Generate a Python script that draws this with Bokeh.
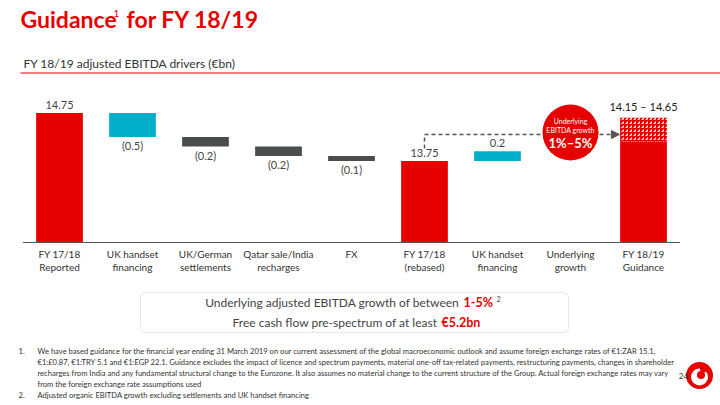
from bokeh.plotting import figure
from bokeh.models import Range1d, Label, BoxAnnotation, Arrow, NormalHead, ColumnDataSource
from bokeh.core.properties import value
from bokeh.embed import file_html
from bokeh.resources import INLINE

# ---------------- data ----------------
categories = ["FY 17/18\nReported", "UK handset\nfinancing", "UK/German\nsettlements",
              "Qatar sale/India\nrecharges", "FX", "FY 17/18\n(rebased)",
              "UK handset\nfinancing", "Underlying\ngrowth", "FY 18/19\nGuidance"]
reported = 14.75
bridge_deltas = [-0.5, -0.2, -0.2, -0.1]
rebased = 13.75
handset_delta = 0.2
guidance_low = 14.15
guidance_high = 14.65
value_labels = ["14.75", "(0.5)", "(0.2)", "(0.2)", "(0.1)", "13.75", "0.2", "", "14.15 \u2013 14.65"]
growth_range = "1%\u20135%"

# ---------------- style ----------------
RED = "#E60000"
CYAN = "#00B0CA"
GREY = "#4A4D4E"
TXT = "#333333"
FONT = "Lato"
W, H = 720, 405
OFF = 0                # page offset of the canvas
floor = 12.05          # value at the chart baseline
PX_X0, PX_DX = 59, 73  # page x of first bar centre, spacing
PX_Y0, PX_DY = 242, 48 # page y of baseline, px per unit


def X(px):
    return (px - PX_X0) / PX_DX


def Y(py):
    return floor + (PX_Y0 - py) / PX_DY


p = figure(width=W, height=H, output_backend="svg", toolbar_location=None,
           x_range=Range1d(X(OFF), X(OFF + W)), y_range=Range1d(Y(OFF + H), Y(OFF)),
           min_border=0, outline_line_color=None)
p.axis.visible = False
p.grid.visible = False
p.background_fill_color = "white"
p.border_fill_color = "white"

# ---------------- bars ----------------
bottoms, tops, colors, above = [floor], [reported], [RED], [True]
level = reported
for d in bridge_deltas:
    new = level + d
    bottoms.append(min(level, new)); tops.append(max(level, new))
    colors.append(CYAN if len(bottoms) == 2 else GREY); above.append(d > 0)
    level = new
bottoms.append(floor); tops.append(rebased); colors.append(RED); above.append(True)
bottoms.append(rebased); tops.append(rebased + handset_delta); colors.append(CYAN); above.append(True)
idx = list(range(len(bottoms)))
p.vbar(x=idx, bottom=bottoms, top=tops, width=0.64, fill_color=colors, line_color=None)

g = len(categories) - 1
p.vbar(x=[g], bottom=[floor], top=[guidance_low], width=0.64, fill_color=RED, line_color=None)
p.vbar(x=[g], bottom=[guidance_low], top=[guidance_high], width=0.64, fill_color=RED,
       line_color=None, hatch_pattern="right_diagonal_dash", hatch_color="white",
       hatch_scale=4, hatch_weight=1.3)

# value labels
lab_x, lab_y, lab_t, lab_off, lab_base = [], [], [], [], []
for i in idx:
    lab_x.append(i); lab_t.append(value_labels[i])
    if above[i]:
        lab_y.append(tops[i]); lab_off.append(-4); lab_base.append("bottom")
    else:
        lab_y.append(bottoms[i]); lab_off.append(2); lab_base.append("top")
src = ColumnDataSource(dict(x=lab_x, y=lab_y, t=lab_t, off=lab_off, b=lab_base))
p.text(x="x", y="y", text="t", y_offset="off", text_baseline="b", source=src,
       text_align="center", text_font=value(FONT), text_font_size="11px", text_color="#444444")
p.text(x=[g], y=[guidance_high], text=[value_labels[g]], y_offset=-5, text_baseline="bottom",
       text_align="center", text_font=value(FONT), text_font_size="11px", text_color="#222222")

# baseline + category labels
p.segment(x0=[-0.5], x1=[len(categories) - 0.5], y0=[floor], y1=[floor], line_color="#555555", line_width=1)
p.text(x=list(range(len(categories))), y=[floor] * len(categories), text=categories,
       y_offset=5, text_baseline="top", text_align="center", text_font=value(FONT),
       text_font_size="10px", text_color=TXT, text_line_height=1.1)

# connector arrow + growth bubble
arrow_level = Y(134)
p.segment(x0=[5], x1=[5], y0=[rebased + 0.26], y1=[arrow_level], line_color="#555555",
          line_width=1.5, line_dash="4 3")
arr = Arrow(x_start=5, y_start=arrow_level, x_end=g - 0.33, y_end=arrow_level,
            line_color="#555555", line_width=1.5, line_dash="4 3", level="underlay",
            end=NormalHead(size=8, fill_color="#555555", line_color="#555555"))
p.add_layout(arr)
p.scatter(x=[7], y=[Y(132)], size=56, fill_color=RED, line_color=None)
for txt, py, fs, st in [("Underlying", 120, "7px", "normal"), ("EBITDA growth", 129, "7px", "normal"),
                        (growth_range, 142, "13px", "bold")]:
    p.add_layout(Label(x=7, y=Y(py), text=txt, text_align="center", text_baseline="middle",
                       text_font=FONT, text_font_size=fs, text_font_style=st, text_color="white"))

# ---------------- header ----------------
p.add_layout(Label(x=X(20), y=Y(18), text="Guidance", text_font=FONT, text_font_size="23px",
                   text_font_style="bold", text_color=RED, text_baseline="middle"))
p.add_layout(Label(x=X(113), y=Y(13), text="1", text_font=FONT, text_font_size="10px",
                   text_color=RED, text_baseline="middle"))
p.add_layout(Label(x=X(126), y=Y(18), text="for FY 18/19", text_font=FONT, text_font_size="23px",
                   text_font_style="bold", text_color=RED, text_baseline="middle"))
p.add_layout(Label(x=X(23), y=Y(63), text="FY 18/19 adjusted EBITDA drivers (\u20acbn)", text_font=FONT,
                   text_font_size="12px", text_color=TXT, text_baseline="middle"))
p.segment(x0=[X(20)], x1=[X(OFF + W)], y0=[Y(72.5)], y1=[Y(72.5)], line_color=RED, line_width=1)

# ---------------- summary box ----------------
p.add_layout(BoxAnnotation(left=X(140), right=X(568), top=Y(292), bottom=Y(332), fill_alpha=0,
                           line_color="#666666", line_dash="1 1", line_width=1, border_radius=5))
p.add_layout(Label(x=X(462), y=Y(302), text="Underlying adjusted EBITDA growth of between ", text_align="right",
                   text_baseline="middle", text_font=FONT, text_font_size="12px", text_color="#444444"))
p.add_layout(Label(x=X(463), y=Y(302), text="1-5%", text_align="left", text_baseline="middle",
                   text_font=FONT, text_font_size="12.5px", text_font_style="bold", text_color=RED))
p.add_layout(Label(x=X(496), y=Y(298), text="2", text_align="left", text_baseline="middle",
                   text_font=FONT, text_font_size="7px", text_color="#444444"))
p.add_layout(Label(x=X(440), y=Y(322), text="Free cash flow pre-spectrum of at least ", text_align="right",
                   text_baseline="middle", text_font=FONT, text_font_size="12px", text_color="#444444"))
p.add_layout(Label(x=X(441), y=Y(322), text="\u20ac5.2bn", text_align="left", text_baseline="middle",
                   text_font=FONT, text_font_size="12.5px", text_font_style="bold", text_color=RED))

# ---------------- footnotes ----------------
notes = [
    ("1.", "We have based guidance for the financial year ending 31 March 2019 on our current assessment of the global macroeconomic outlook and assume foreign exchange rates of \u20ac1:ZAR 15.1,"),
    ("", "\u20ac1:\u00a30.87, \u20ac1:TRY 5.1 and \u20ac1:EGP 22.1. Guidance excludes the impact of licence and spectrum payments, material one-off tax-related payments, restructuring payments, changes in shareholder"),
    ("", "recharges from India and any fundamental structural change to the Eurozone. It also assumes no material change to the current structure of the Group. Actual foreign exchange rates may vary"),
    ("", "from the foreign exchange rate assumptions used"),
    ("2.", "Adjusted organic EBITDA growth excluding settlements and UK handset financing"),
]
for k, (num, txt) in enumerate(notes):
    py = 350 + k * 11
    if num:
        p.add_layout(Label(x=X(18), y=Y(py), text=num, text_baseline="middle", text_font=FONT,
                           text_font_size="7.6px", text_color=TXT))
    p.add_layout(Label(x=X(37), y=Y(py), text=txt, text_baseline="middle", text_font=FONT,
                       text_font_size="7.6px", text_color=TXT))

# page number + logo
p.add_layout(Label(x=X(683), y=Y(375), text="24", text_align="center", text_baseline="middle",
                   text_font=FONT, text_font_size="8px", text_color=TXT))
p.scatter(x=[X(699)], y=[Y(375)], size=27, fill_color=RED, line_color=None)
p.scatter(x=[X(699)], y=[Y(376.5)], size=17, fill_color="white", line_color=None)
p.scatter(x=[X(700.5)], y=[Y(374.5)], size=8, fill_color=RED, line_color=None)
p.scatter(x=[X(703)], y=[Y(368.5)], size=7, fill_color=RED, line_color=None)

open("out.html", "w").write(file_html(p, INLINE))
